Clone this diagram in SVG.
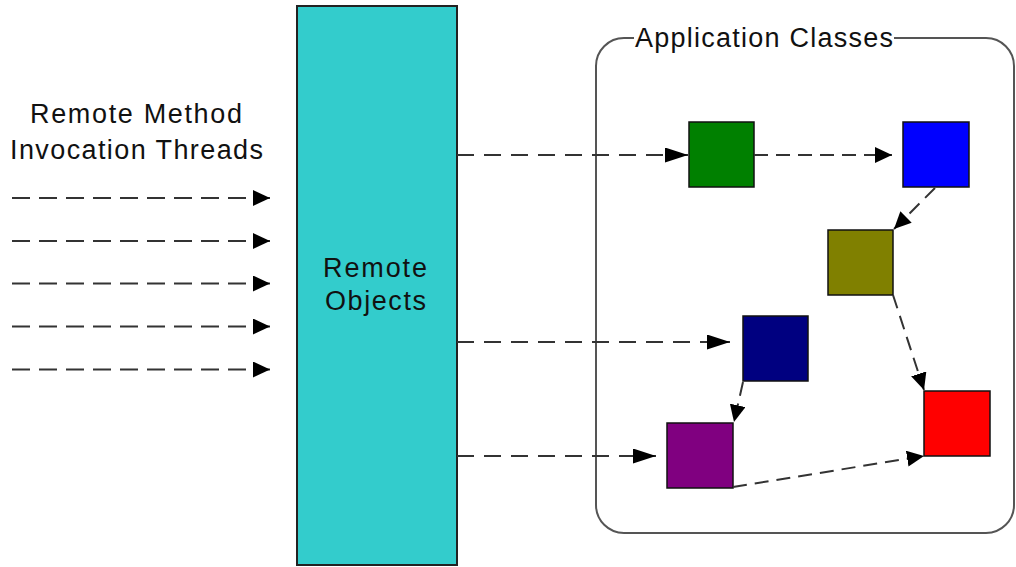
<svg xmlns="http://www.w3.org/2000/svg" width="1016" height="567" viewBox="0 0 1016 567">
  <style>
    .lbl { font-family: "Liberation Sans", Arial, sans-serif; font-size: 27px; fill: #111; }
    .sq { stroke: #111; stroke-width: 1.5; }
    .cn { fill: none; stroke: #333; stroke-width: 2; }
    .thr { stroke-dasharray: 18 9; marker-end: url(#arrS); }
    .ro { stroke-dasharray: 17 10; marker-end: url(#arrL); }
    .in { stroke-dasharray: 14 8; marker-end: url(#arrS); }
  </style>
  <defs>
    <marker id="arrS" markerUnits="userSpaceOnUse" markerWidth="17" markerHeight="16" refX="17" refY="8" orient="auto">
      <path d="M0,0 L17,8 L0,16 z" fill="#000"/>
    </marker>
    <marker id="arrL" markerUnits="userSpaceOnUse" markerWidth="23" markerHeight="15" refX="23" refY="7.5" orient="auto">
      <path d="M0,0 L23,7.5 L0,15 z" fill="#000"/>
    </marker>
  </defs>
  <rect width="1016" height="567" fill="#fff"/>

  <g id="threads-label">
    <text class="lbl" x="136" y="123" text-anchor="middle" textLength="212" lengthAdjust="spacing">Remote Method</text>
    <text class="lbl" x="136.5" y="159" text-anchor="middle" textLength="253" lengthAdjust="spacing">Invocation Threads</text>
  </g>

  <g id="remote-objects">
    <rect x="297" y="6" width="160" height="559" fill="#33CCCC" stroke="#222" stroke-width="2"/>
    <text class="lbl" x="375" y="277" text-anchor="middle" textLength="104" lengthAdjust="spacing">Remote</text>
    <text class="lbl" x="375.5" y="310" text-anchor="middle" textLength="101" lengthAdjust="spacing">Objects</text>
  </g>

  <g id="application-classes">
    <rect x="596" y="38" width="418" height="495" rx="28" ry="28" fill="none" stroke="#555" stroke-width="2"/>
    <rect x="634" y="28" width="260" height="18" fill="#fff"/>
    <text class="lbl" x="764" y="47" text-anchor="middle" textLength="258" lengthAdjust="spacing">Application Classes</text>
  </g>

  <g id="class-green"><rect class="sq" x="689" y="122" width="65" height="65" fill="#008000"/></g>
  <g id="class-blue"><rect class="sq" x="903" y="122" width="66" height="65" fill="#0000FF"/></g>
  <g id="class-olive"><rect class="sq" x="828" y="230" width="65" height="65" fill="#808000"/></g>
  <g id="class-navy"><rect class="sq" x="743" y="316" width="65" height="65" fill="#000080"/></g>
  <g id="class-purple"><rect class="sq" x="667" y="423" width="66" height="65" fill="#800080"/></g>
  <g id="class-red"><rect class="sq" x="924" y="391" width="66" height="65" fill="#FF0000"/></g>

  <g id="connectors">
    <path class="cn thr" d="M12,198 H270"/>
    <path class="cn thr" d="M12,241 H270"/>
    <path class="cn thr" d="M12,283.5 H270"/>
    <path class="cn thr" d="M12,326.5 H270"/>
    <path class="cn thr" d="M12,369.5 H270"/>

    <path class="cn ro" d="M457,155 H688"/>
    <path class="cn ro" d="M457,342 H730"/>
    <path class="cn ro" d="M457,456 H656"/>

    <path class="cn in" d="M754,155 H892"/>
    <path class="cn in" d="M935,188 L894,229"/>
    <path class="cn in" d="M743,382 L734,422"/>
    <path class="cn in" d="M733,487 L924,456"/>
    <path class="cn in" d="M893,295 L924,390"/>
  </g>
</svg>
